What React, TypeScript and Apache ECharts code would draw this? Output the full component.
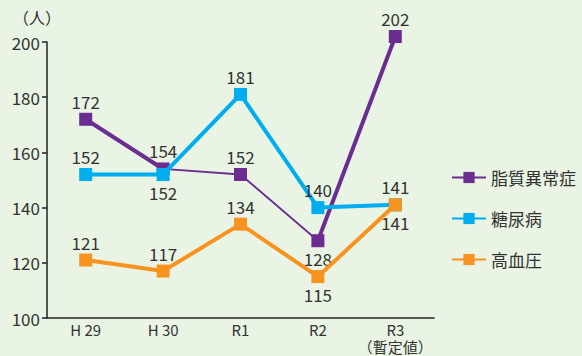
import React, { useEffect, useRef } from "react";
import * as echarts from "echarts";

const categories = ["H 29", "H 30", "R1", "R2", "R3\n（暫定値）"];
const seriesNames = ["脂質異常症", "糖尿病", "高血圧"];
const lipid = [172, 154, 152, 128, 202];
const diabetes = [152, 152, 181, 140, 141];
const hypertension = [121, 117, 134, 115, 141];
// label positions per point
const lipidPos = ["top", "top", "top", "bottom", "top"];
const diabetesPos = ["top", "bottom", "top", "top", "top"];
const hyperPos = ["top", "top", "top", "bottom", "bottom"];
// purple segments drawn thick (segment i connects point i and i+1)
const lipidThickSegments = [0, 3];

const COLORS = ["#6b2d90", "#00aeef", "#f7931e"];
const FONT = "'Noto Sans CJK JP', 'Noto Sans', sans-serif";

export default function App() {
  const ref = useRef<HTMLDivElement>(null);
  useEffect(() => {
    const chart = echarts.init(ref.current!, null, { renderer: "svg" });
    const mk = (vals: number[], pos: string[]) =>
      vals.map((v, i) => ({ value: v, label: { position: pos[i] } }));
    const thickData = lipid.map((v, i) =>
      lipidThickSegments.includes(i) || lipidThickSegments.includes(i - 1) ? v : null
    );
    const labelStyle = { show: true, fontSize: 17, color: "#333", fontFamily: FONT, distance: 3 };
    chart.setOption({
      animation: false,
      backgroundColor: "#e9f4e4",
      textStyle: { fontFamily: FONT },
      grid: { left: 47, right: 148, top: 42, bottom: 38 },
      legend: {
        orient: "vertical",
        left: 446,
        top: 164,
        itemWidth: 34,
        itemHeight: 14,
        itemGap: 24,
        data: seriesNames,
        textStyle: { fontSize: 17, color: "#333", fontFamily: FONT },
      },
      xAxis: {
        type: "category",
        data: categories,
        boundaryGap: true,
        axisLine: { lineStyle: { color: "#222", width: 1.5 } },
        axisTick: { inside: true, length: 5, lineStyle: { color: "#222", width: 1.5 } },
        axisLabel: { interval: 0, fontSize: 15, color: "#333", lineHeight: 17, margin: 3, fontFamily: FONT },
      },
      yAxis: {
        type: "value",
        min: 100,
        max: 200,
        interval: 20,
        name: "（人）",
        nameLocation: "end",
        nameGap: 17,
        nameTextStyle: { fontSize: 16, color: "#333", align: "right", padding: [0, -14, 0, 0] },
        splitLine: { show: false },
        axisLine: { show: true, lineStyle: { color: "#222", width: 1.5 } },
        axisTick: { show: true, length: 5, lineStyle: { color: "#222", width: 1.5 } },
        axisLabel: { fontSize: 17, color: "#333", margin: 7, fontFamily: FONT },
      },
      series: [
        {
          name: seriesNames[0],
          type: "line",
          data: mk(lipid, lipidPos),
          color: COLORS[0],
          symbol: "rect",
          symbolSize: 13,
          clip: false,
          lineStyle: { width: 1.8 },
          label: labelStyle,
          z: 2,
        },
        {
          name: seriesNames[0] + "_thick",
          type: "line",
          data: thickData,
          color: COLORS[0],
          showSymbol: false,
          symbol: "none",
          connectNulls: false,
          clip: false,
          lineStyle: { width: 4 },
          z: 2,
          silent: true,
        },
        {
          name: seriesNames[1],
          type: "line",
          data: mk(diabetes, diabetesPos),
          color: COLORS[1],
          symbol: "rect",
          symbolSize: 13,
          clip: false,
          lineStyle: { width: 4 },
          label: labelStyle,
          z: 3,
        },
        {
          name: seriesNames[2],
          type: "line",
          data: mk(hypertension, hyperPos),
          color: COLORS[2],
          symbol: "rect",
          symbolSize: 13,
          clip: false,
          lineStyle: { width: 4 },
          label: labelStyle,
          z: 4,
        },
      ],
    });
    return () => chart.dispose();
  }, []);
  return <div ref={ref} style={{ width: 582, height: 356, position: "absolute", left: 0, top: 0 }} />;
}
